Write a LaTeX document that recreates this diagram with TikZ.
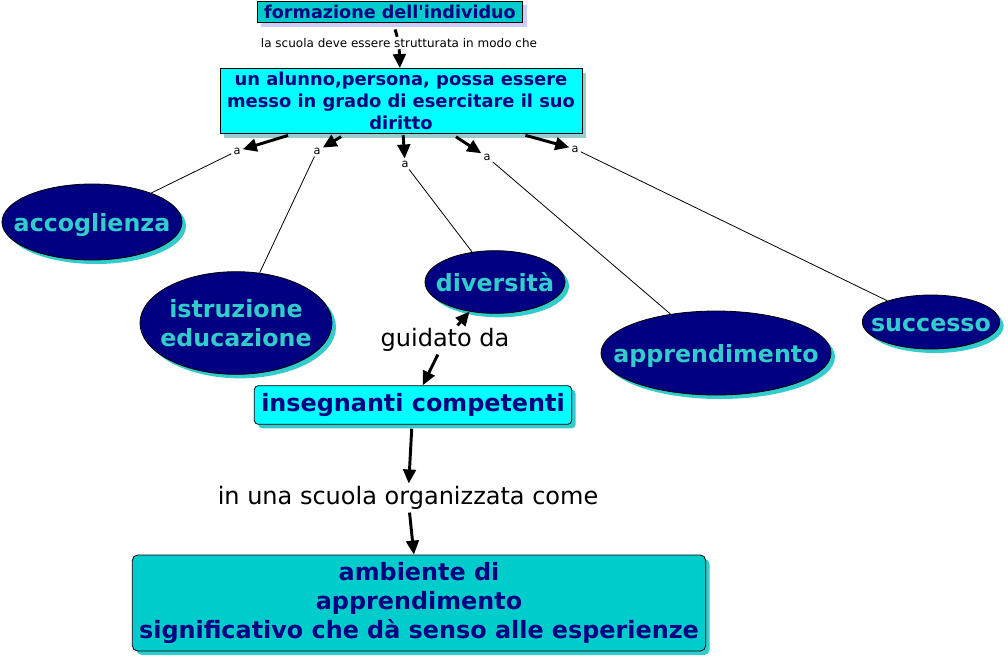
\documentclass[tikz,border=0pt]{standalone}
\usepackage{fontspec}
\setmainfont{DejaVu Sans}
\usetikzlibrary{shapes.geometric,arrows.meta,shadows}
\definecolor{navyc}{HTML}{000080}
\definecolor{tealc}{HTML}{00CCCC}
\definecolor{cyanc}{HTML}{00FFFF}
\definecolor{etext}{HTML}{33CCCC}
\definecolor{lav}{HTML}{CCCCFF}
\definecolor{gshadow}{HTML}{99CCCC}
\newcommand{\zbox}[1]{\raisebox{-2.4pt}[\height][\depth]{\makebox[0pt]{\begin{tabular}{@{}c@{}}#1\end{tabular}}}}
\begin{document}
\begin{tikzpicture}[x=0.75pt,y=-0.75pt,
  conc/.style={ellipse, draw=black, line width=0.6pt, fill=navyc, text=etext,
    font=\bfseries\fontsize{17.8}{22}\selectfont, inner sep=0pt,
    drop shadow={fill=etext, opacity=1, shadow xshift=3pt, shadow yshift=-3pt}},
  boxc/.style={draw=black, line width=0.6pt, text=navyc, align=center, inner sep=0pt,
    font=\bfseries},
  lnk/.style={font=\fontsize{18}{21}\selectfont, inner sep=2pt},
  alab/.style={font=\fontsize{8.5}{10}\selectfont, inner sep=1.5pt},
  arr/.style={line width=2.2pt, -{Triangle[length=10.5pt,width=9.5pt]}},
  conn/.style={line width=2.2pt},
  thinl/.style={line width=0.6pt}
]
\useasboundingbox (0,0) rectangle (1008,658);

% top box
\node[boxc, fill=tealc, minimum width=199pt, minimum height=16pt,
  font=\bfseries\fontsize{13.2}{15}\selectfont,
  drop shadow={fill=lav, opacity=1, shadow xshift=3pt, shadow yshift=-3pt}]
  (top) at (390,12) {formazione dell\textquotesingle individuo};
\node[font=\fontsize{9}{10}\selectfont, inner sep=1pt] (lab1) at (399,43)
  {la scuola deve essere strutturata in modo che};

% box 2
\node[boxc, fill=cyanc, minimum width=271.5pt, minimum height=48.75pt,
  font=\bfseries\fontsize{13.4}{16.6}\selectfont,
  drop shadow={fill=gshadow, opacity=1, shadow xshift=3pt, shadow yshift=-3pt}]
  (box2) at (401,101) {un alunno,persona, possa essere\\messo in grado di esercitare il suo\\diritto};

% a labels
\node[alab] (a1) at (237,151) {a};
\node[alab] (a2) at (317,151) {a};
\node[alab] (a3) at (405,164) {a};
\node[alab] (a4) at (487,157) {a};
\node[alab] (a5) at (575,149) {a};

% concepts
\node[conc, minimum width=135pt, minimum height=57pt] (acc) at (92,222) {\zbox{accoglienza}};
\node[conc, minimum width=144pt, minimum height=77pt] (istr) at (236,323) {\zbox{istruzione\\educazione}};
\node[conc, minimum width=105pt, minimum height=47pt] (div) at (495,282) {\zbox{diversità}};
\node[conc, minimum width=172.5pt, minimum height=63pt] (appr) at (716,353) {\zbox{apprendimento}};
\node[conc, minimum width=103pt, minimum height=40.5pt] (succ) at (931,322) {\zbox{successo}};

% lower chain
\node[lnk] (guid) at (445,340) {guidato da};
\node[boxc, fill=cyanc, rounded corners=3pt, minimum width=238pt, minimum height=29pt,
  font=\bfseries\fontsize{17.9}{21}\selectfont,
  drop shadow={fill=etext, opacity=1, shadow xshift=3pt, shadow yshift=-3pt}]
  (ins) at (413,405) {insegnanti competenti};
\node[lnk] (scu) at (408,498) {in una scuola organizzata come};
\node[boxc, fill=tealc, rounded corners=4pt, minimum width=430pt, minimum height=72pt,
  font=\bfseries\fontsize{17.9}{21.4}\selectfont,
  drop shadow={fill=etext, opacity=1, shadow xshift=3pt, shadow yshift=-3pt}]
  (amb) at (419,603) {ambiente di\\apprendimento\\significativo che dà senso alle esperienze};

% connectors
\draw[conn, shorten <=5pt] (top) -- (lab1);
\draw[arr] (lab1) -- (box2);
\draw[arr, shorten <=4pt] (box2) -- (a1);
\draw[arr, shorten <=4pt] (box2) -- (a2);
\draw[arr, shorten <=1pt] (box2) -- (a3);
\draw[arr, shorten <=4pt] (box2) -- (a4);
\draw[arr, shorten <=4pt] (box2) -- (a5);
\draw[thinl] (a1) -- (acc);
\draw[thinl] (a2) -- (istr);
\draw[thinl] (a3) -- (div);
\draw[thinl] (a4) -- (appr);
\draw[thinl] (a5) -- (succ);
\draw[arr] (guid) -- (div);
\draw[arr] (guid) -- (ins);
\draw[arr, shorten <=3pt] (ins) -- (scu);
\draw[arr] (scu) -- (amb);
\end{tikzpicture}
\end{document}
